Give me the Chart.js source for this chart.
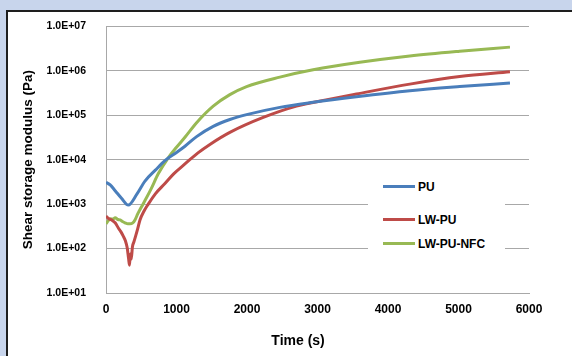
<!DOCTYPE html>
<html>
<head>
<meta charset="utf-8">
<script src="https://cdn.jsdelivr.net/npm/chart.js@4.4.0/dist/chart.umd.min.js"></script>
<style>
html, body { margin: 0; padding: 0; }
body { width: 572px; height: 356px; background: #c8d5ec; position: relative; overflow: hidden;
       font-family: "Liberation Sans", Arial, sans-serif; }
#box { position: absolute; left: 6px; top: 10px; width: 590px; height: 370px; background: #fff; border: 2px solid #1e1e1e; }
#myChart { position: absolute; left: 0; top: 0; }
#legend { position: absolute; left: 368px; top: 168px; width: 137px; height: 94px; background: #fff; }
.item { position: absolute; left: 15px; height: 16px; font-weight: bold; font-size: 12px; color: #000; white-space: nowrap; }
.item span.ln { position: absolute; left: 0; top: 6px; width: 32px; height: 3px; }
.item span.tx { position: absolute; left: 35px; top: 0; line-height: 16px; }
</style>
</head>
<body>
<div id="box"></div>
<canvas id="myChart" width="572" height="356"></canvas>
<div id="legend"></div>
<script>
// 時間 (s) と弾性率 (Pa)
var timePU = [0, 60, 130, 220, 316, 440, 553, 700, 836, 1000, 1120, 1285, 1521, 1757, 1994, 2466, 2938, 3552, 4309, 5017, 5730];
var valPU  = [3100, 2700, 2000, 1350, 950, 1700, 3300, 5800, 9500, 14500, 20000, 33000, 56000, 80000, 103000, 150000, 195000, 260000, 355000, 440000, 530000];

var timeLW = [0, 40, 80, 130, 175, 210, 245, 275, 300, 320, 333, 345, 358, 375, 395, 420, 450, 482, 540, 600, 700, 836, 960, 1120, 1300, 1474, 1757, 2230, 2702, 3174, 3552, 4309, 5017, 5730];
var valLW  = [540, 470, 440, 380, 290, 240, 190, 150, 105, 60, 42, 75, 58, 110, 140, 190, 280, 440, 700, 1000, 1700, 2900, 4800, 8000, 14000, 22000, 41000, 89000, 160000, 230000, 300000, 500000, 740000, 950000];

var timeNFC = [0, 30, 60, 100, 130, 170, 200, 240, 270, 310, 340, 380, 411, 450, 500, 553, 640, 741, 883, 1000, 1120, 1285, 1521, 1757, 1994, 2466, 2938, 3600, 4309, 5017, 5730];
var valNFC  = [360, 420, 470, 460, 490, 450, 440, 400, 380, 360, 360, 380, 440, 600, 850, 1200, 2200, 4800, 11000, 19000, 32000, 68000, 160000, 290000, 440000, 720000, 1050000, 1550000, 2150000, 2750000, 3400000];

var seriesNames = ["PU", "LW-PU", "LW-PU-NFC"];
var seriesColors = ["#4a7ebb", "#be4b48", "#98b954"];

var xTickStep = 1000;
var yTicks = [10, 100, 1000, 10000, 100000, 1000000, 10000000];
var yTickLabels = ["1.0E+01", "1.0E+02", "1.0E+03", "1.0E+04", "1.0E+05", "1.0E+06", "1.0E+07"];

function toPoints(ts, vs) {
  return ts.map((t, i) => ({x: t, y: vs[i]}));
}

Chart.defaults.font.family = "'Liberation Sans', Arial, sans-serif";
Chart.defaults.color = "#000";

var allData = [toPoints(timePU, valPU), toPoints(timeLW, valLW), toPoints(timeNFC, valNFC)];

var datasets = [];
for (let i = 0; i < seriesNames.length; i++) {
  datasets.push({
    label: seriesNames[i],
    data: allData[i],
    borderColor: seriesColors[i],
    backgroundColor: seriesColors[i],
    borderWidth: 3,
    pointRadius: 0,
    fill: false,
    cubicInterpolationMode: "monotone"
  });
}

var gridColor = "#a8a8a8";

var myChart = new Chart(document.getElementById("myChart").getContext("2d"), {
  type: "line",
  data: { datasets: datasets },
  options: {
    responsive: false,
    animation: false,
    devicePixelRatio: 1,
    layout: { padding: { left: 0, top: 25, right: 43, bottom: 0 } },
    plugins: { legend: { display: false }, tooltip: { enabled: false } },
    scales: {
      x: {
        type: "linear",
        min: 0, max: 6000,
        grid: { display: false, drawTicks: false },
        border: { display: true, color: gridColor, width: 1 },
        ticks: { stepSize: xTickStep, padding: 9, font: { size: 12, weight: "bold" }, color: "#000",
                 callback: (v) => String(v) },
        title: { display: true, text: "Time (s)\u00a0\u00a0\u00a0\u00a0\u00a0\u00a0\u00a0\u00a0\u00a0\u00a0",
                 font: { size: 14, weight: "bold" }, color: "#000", padding: { top: 0, bottom: 6 } },
        afterFit: (scale) => { scale.height = 63; }
      },
      y: {
        type: "logarithmic",
        min: 10, max: 10000000,
        grid: { color: gridColor, lineWidth: 1, drawTicks: false },
        border: { display: true, color: gridColor, width: 1 },
        ticks: {
          padding: 20,
          font: { size: 10.5, weight: "bold" },
          color: "#000",
          callback: (v) => {
            var k = yTicks.indexOf(v);
            return k >= 0 ? yTickLabels[k] : "";
          }
        },
        afterBuildTicks: (scale) => { scale.ticks = yTicks.map(v => ({value: v})); },
        title: { display: true, text: "Shear storage modulus (Pa)",
                 font: { size: 13.5, weight: "bold" }, color: "#000", padding: { top: 20, bottom: 0 } },
        afterFit: (scale) => { scale.width = 106; }
      }
    }
  }
});

// 凡例 (HTML)
var legendTops = [11, 44, 68];
var legend = document.getElementById("legend");
for (let i = 0; i < seriesNames.length; i++) {
  var item = document.createElement("div");
  item.className = "item";
  item.style.top = legendTops[i] + "px";
  item.innerHTML = '<span class="ln" style="background:' + seriesColors[i] + '"></span><span class="tx">' + seriesNames[i] + '</span>';
  legend.appendChild(item);
}
</script>
</body>
</html>
